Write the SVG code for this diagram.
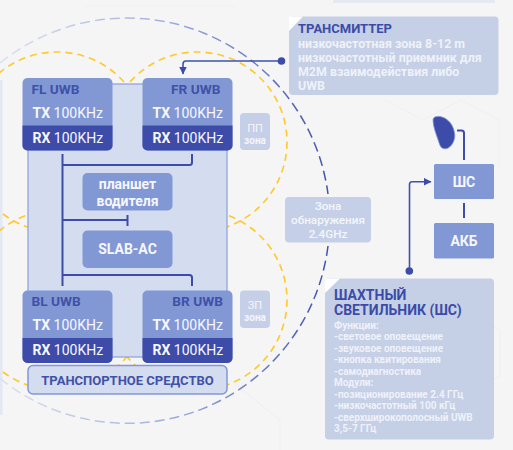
<svg xmlns="http://www.w3.org/2000/svg" width="513" height="450" viewBox="0 0 513 450">
<style>
text{font-family:Roboto,"Liberation Sans",sans-serif}
.body{fill:#d4dcef;stroke:#8ba0d8;stroke-width:1.2}
.uwb{fill:#8298d5}
.dark{fill:#3d4ca8}
.name{font-size:13.7px;font-weight:700;fill:#3f51a8}
.tr{font-size:14px;fill:#f6f7fc}
.tr tspan{font-weight:700}
.box{fill:#8298d5}
.boxt{font-size:14px;font-weight:700;fill:#f6f7fc;text-anchor:middle}
.zone{fill:#c5d0e8}
.zt{fill:#f4f6fb;text-anchor:middle}
.info{fill:#c5cfe6}
.it{font-weight:700;fill:#3b4ca8}
.ib{font-size:12.4px;font-weight:700;fill:#eff2fa}
.ic{font-size:10px;font-weight:700;fill:#eff2fa}
.y{fill:none;stroke:#fec92c;stroke-width:1.6;stroke-dasharray:7 5}
.line{fill:none;stroke:#3d4ca8;stroke-width:2}
.thin{fill:none;stroke:#3f52ad;stroke-width:1.6}
.dot{fill:#3d4ca8}
</style>
<defs>
<linearGradient id="bl" gradientUnits="userSpaceOnUse" x1="0" y1="0" x2="330" y2="0">
<stop offset="0" stop-color="#dbe0f0"/><stop offset="0.5" stop-color="#a3b1dc"/><stop offset="1" stop-color="#3f52ad"/>
</linearGradient>
<marker id="arr" viewBox="0 0 8 8" refX="7.5" refY="4" markerWidth="8" markerHeight="8" orient="auto" markerUnits="userSpaceOnUse"><path d="M0 0L8 4L0 8Z" fill="#3d4ca8"/></marker>
</defs>
<rect width="513" height="450" fill="#f5f5f6"/>
<g fill="none" stroke="#f0f0f1" stroke-width="1.2">
<path d="M385 100l38 20l38-20l38 20v50"/>
<path d="M420 330l40-22l40 22v46l-40 22l-40-22z"/>
<path d="M85 6h150M230 380l50 40v30"/>
</g>
<rect x="0" y="80" width="2.5" height="335" fill="#e4e8f3"/>
<rect x="333" y="0" width="162" height="3" fill="#e6e9f2"/>
<g id="zones">
<circle class="y" cx="57" cy="142" r="90"/>
<circle class="y" cx="197" cy="142" r="90"/>
<circle class="y" cx="57" cy="300" r="90"/>
<circle class="y" cx="197" cy="300" r="90"/>
<path d="M0 63A202.500 202.500 0 0 1 328 194" fill="none" stroke="url(#bl)" stroke-width="1.5" stroke-dasharray="10 5"/>
<path d="M328 246A202.500 202.500 0 0 1 0 378.500" fill="none" stroke="url(#bl)" stroke-width="1.5" stroke-dasharray="10 5"/>
</g>
<g id="vehicle"><rect class="body" x="28" y="84" width="199" height="273"/></g>
<g id="connectors">
<path class="line" d="M62.500 154V286M62.500 165H189.500Q192 165 192 162.500V154M62.500 220H127.500M127.500 215V226M62.500 275H189.500Q192 275 192 277.500V286"/>
<path class="thin" d="M281 61H186Q183 61 183 64V74" marker-end="url(#arr)"/>
<circle class="dot" cx="281.500" cy="61" r="3.800"/>
<path class="thin" d="M409.500 271V184.500Q409.500 181.700 412 181.700H431" marker-end="url(#arr)"/>
<circle class="dot" cx="409.300" cy="271" r="3.800"/>
<path class="line" d="M457 130.500H461.500Q464 130.500 464 133V160M464 203V218"/>
</g>
<g id="fl"><rect class="uwb" x="22.500" y="78" width="90" height="72.500" rx="5"/><path class="dark" d="M22.500 125.500H112.500V145.500a5 5 0 0 1-5 5H27.500a5 5 0 0 1-5-5Z"/>
<text class="name" x="31.500" y="94">FL UWB</text><text class="tr" x="32.500" y="118"><tspan>TX</tspan> 100KHz</text><text class="tr" x="32.500" y="143"><tspan>RX</tspan> 100KHz</text></g>
<g id="fr"><rect class="uwb" x="142.500" y="78" width="90" height="72.500" rx="5"/><path class="dark" d="M142.500 125.500H232.500V145.500a5 5 0 0 1-5 5H147.500a5 5 0 0 1-5-5Z"/>
<text class="name" x="220.500" y="94" text-anchor="end">FR UWB</text><text class="tr" x="152.500" y="118"><tspan>TX</tspan> 100KHz</text><text class="tr" x="152.500" y="143"><tspan>RX</tspan> 100KHz</text></g>
<g id="bl-node"><rect class="uwb" x="22.500" y="290.500" width="90" height="72.500" rx="5"/><path class="dark" d="M22.500 338H112.500V358a5 5 0 0 1-5 5H27.500a5 5 0 0 1-5-5Z"/>
<text class="name" x="31.500" y="306">BL UWB</text><text class="tr" x="32.500" y="330"><tspan>TX</tspan> 100KHz</text><text class="tr" x="32.500" y="355"><tspan>RX</tspan> 100KHz</text></g>
<g id="br"><rect class="uwb" x="142.500" y="290.500" width="90" height="72.500" rx="5"/><path class="dark" d="M142.500 338H232.500V358a5 5 0 0 1-5 5H147.500a5 5 0 0 1-5-5Z"/>
<text class="name" x="223" y="306" text-anchor="end">BR UWB</text><text class="tr" x="152.500" y="330"><tspan>TX</tspan> 100KHz</text><text class="tr" x="152.500" y="355"><tspan>RX</tspan> 100KHz</text></g>
<g id="tablet"><rect class="box" x="82.500" y="173" width="90" height="37.500" rx="5"/><text class="boxt" x="127.500" y="189">планшет</text><text class="boxt" x="127.500" y="206">водителя</text></g>
<g id="slab"><rect class="box" x="82.500" y="230.500" width="90" height="37.500" rx="5"/><text class="boxt" x="127.500" y="254">SLAB-AC</text></g>
<g id="vehicle-label"><rect x="28" y="365.500" width="199" height="28.500" rx="5" fill="#d4dcef" stroke="#8298d5" stroke-width="1.500"/><text x="127.500" y="385" text-anchor="middle" font-size="13" font-weight="700" fill="#3f51a8">ТРАНСПОРТНОЕ СРЕДСТВО</text></g>
<g id="pp"><rect class="zone" x="240" y="113" width="30" height="37" rx="4"/><text class="zt" x="255" y="132" font-size="11">ПП</text><text class="zt" x="255" y="143.500" font-size="10" font-weight="700">зона</text></g>
<g id="zp"><rect class="zone" x="240" y="290.500" width="30" height="37.500" rx="4"/><text class="zt" x="255" y="309" font-size="11">ЗП</text><text class="zt" x="255" y="321" font-size="10" font-weight="700">зона</text></g>
<g id="detect"><rect class="zone" x="285" y="197" width="86" height="45.500" rx="4"/><text class="zt" x="328" y="210" font-size="11.700" font-weight="500">Зона</text><text class="zt" x="328" y="224" font-size="11.700" font-weight="500">обнаружения</text><text class="zt" x="328" y="238" font-size="11.700" font-weight="500">2.4GHz</text></g>
<g id="transmitter"><rect class="info" x="289" y="16.500" width="209.500" height="78.500" rx="4"/><path d="M289 16.500H303L289 31Z" fill="#fff"/>
<text class="it" x="298" y="33" font-size="13">ТРАНСМИТТЕР</text><text class="ib" x="298" y="47.500">низкочастотная зона 8-12 m</text><text class="ib" x="298" y="62">низкочастотный приемник для</text><text class="ib" x="298" y="76">M2M взаимодействия либо</text><text class="ib" x="298" y="90">UWB</text></g>
<g id="lamp"><path d="M433 120C433 117 436 116 440 116.500C448 118 454 125 454.800 135C455 142 450 149 445 148.800C441 148.500 440 146 438.500 141C436 134 433 126 433 120Z" fill="#3d4ca8" stroke="#8298d5" stroke-width="0.800"/></g>
<g id="shs"><rect class="box" x="434" y="164" width="60" height="35" rx="1.500"/><text class="boxt" x="464" y="186.500">ШС</text></g>
<g id="akb"><rect class="box" x="434" y="223" width="60" height="35.500" rx="1.500"/><text class="boxt" x="464" y="245.500">АКБ</text></g>
<g id="lamp-info"><rect class="info" x="325" y="278.500" width="169" height="161" rx="4"/><path d="M325 278.500H340L325 293Z" fill="#fff"/>
<text class="it" x="334" y="300" font-size="14">ШАХТНЫЙ</text><text class="it" x="334" y="314.500" font-size="14">СВЕТИЛЬНИК (ШС)</text>
<text class="ic" x="334" y="328.500">Функции:</text><text class="ic" x="334" y="340">-световое оповещение</text><text class="ic" x="334" y="351.500">-звуковое оповещение</text><text class="ic" x="334" y="363">-кнопка квитирования</text><text class="ic" x="334" y="374.500">-самодиагностика</text><text class="ic" x="334" y="386">Модули:</text><text class="ic" x="334" y="397.500">-позиционирование 2.4 ГГц</text><text class="ic" x="334" y="409">-низкочастотный 100 кГц</text><text class="ic" x="334" y="420.500">-сверхширокополосный UWB</text><text class="ic" x="334" y="432">3,5-7 ГГц</text></g>
</svg>
